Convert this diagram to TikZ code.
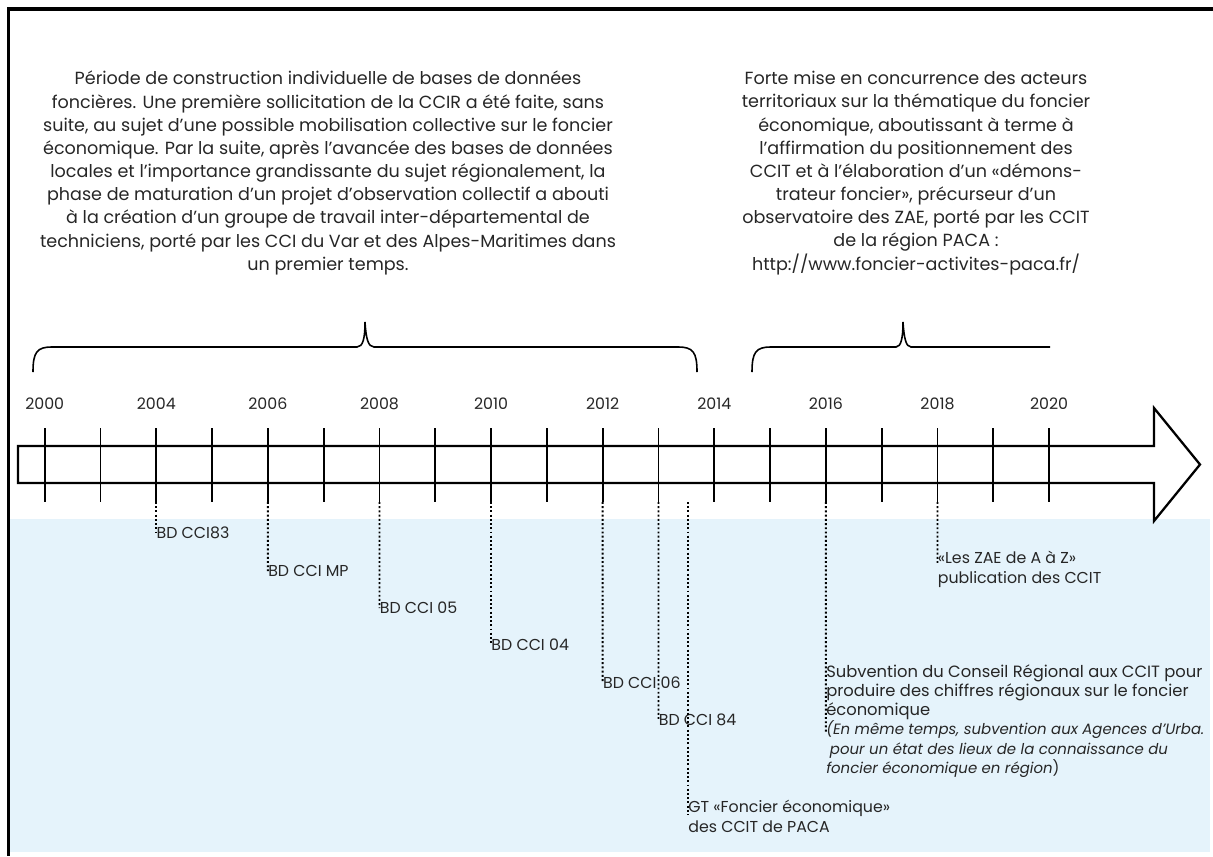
\documentclass[tikz,border=0pt]{standalone}
\usepackage{fontspec}
\setmainfont{Poppins}
\definecolor{bandblue}{HTML}{E5F3FB}
\definecolor{inkgray}{HTML}{262626}
\begin{document}
\begin{tikzpicture}[x=0.02cm,y=-0.02cm]
    \tikzstyle{every node}=[inner sep=0pt,text=inkgray];
    \tikzstyle{bloc}=[align=center,font=\fontsize{10}{13.2}\selectfont];
    \tikzstyle{an}=[font=\fontsize{9}{11}\selectfont];
    \tikzstyle{evt}=[anchor=west,align=left,font=\fontsize{9}{11}\selectfont];
    \tikzstyle{leader}=[draw,line width=1.1pt,dash pattern=on 1.1pt off 1.3pt];
    \tikzstyle{tick}=[draw,line width=1pt];
    \tikzstyle{brace}=[draw,line width=0.9pt];
    \useasboundingbox (0,0) rectangle (1213,856);
\fill[bandblue] (10,519) rectangle (1210,852);
\draw[line width=2pt] (1213,9) -- (8.5,9) -- (8.5,856);
% texts above the braces
\node[bloc] (periode1) at (328,173) {Période de construction individuelle de bases de données\\
foncières. Une première sollicitation de la CCIR a été faite, sans\\
suite, au sujet d’une possible mobilisation collective sur le foncier\\
économique. Par la suite, après l’avancée des bases de données\\
locales et l’importance grandissante du sujet régionalement, la\\
phase de maturation d’un projet d’observation collectif a abouti\\
à la création d’un groupe de travail inter-départemental de\\
techniciens, porté par les CCI du Var et des Alpes-Maritimes dans\\
un premier temps.};
\node[bloc] (periode2) at (916,173) {Forte mise en concurrence des acteurs\\
territoriaux sur la thématique du foncier\\
économique, aboutissant à terme à\\
l’affirmation du positionnement des\\
CCIT et à l’élaboration d’un «démons-\\
trateur foncier», précurseur d’un\\
observatoire des ZAE, porté par les CCIT\\
de la région PACA :\\
http://www.foncier-activites-paca.fr/};
% braces
\draw[brace] (33,372) .. controls (33,352) and (37,347) .. (52,347) -- (357,347)
  .. controls (363,347) and (365,338) .. (365,322) .. controls (366,338) and (368,347) .. (374,347)
  -- (678,347) .. controls (693,347) and (697,352) .. (697,372);
\draw[brace] (752,372) .. controls (752,352) and (756,347) .. (771,347) -- (896,347)
  .. controls (901,347) and (903,338) .. (903,322) .. controls (904,338) and (906,347) .. (911,347)
  -- (1050,347);
% time arrow
\draw[line width=1.3pt,fill=white] (18,446) -- (1154,446) -- (1154,408) -- (1200,464.5)
  -- (1154,521) -- (1154,483) -- (18,483) -- cycle;
\foreach \k in {0,...,18}{
  \coordinate (tt\k) at (44.7+55.8*\k,428);
  \coordinate (tb\k) at (44.7+55.8*\k,502);
  \draw[tick] (tt\k) -- (tb\k);
}
\foreach \k/\yr in {0/2000,2/2004,4/2006,6/2008,8/2010,10/2012,12/2014,14/2016,16/2018,18/2020}
  \node[an] (y\yr) at (44.7+55.8*\k,404) {\yr};
% events
\node[evt] (bd83) at (156.3,533) {BD CCI83};
\node[evt] (bdmp) at (267.9,571) {BD CCI MP};
\node[evt] (bd05) at (379.5,608) {BD CCI 05};
\node[evt] (bd04) at (491.1,645) {BD CCI 04};
\node[evt] (bd06) at (602.7,683) {BD CCI 06};
\node[evt] (bd84) at (658.5,720) {BD CCI 84};
\coordinate (gtop) at (688,502);
\node[evt,anchor=north west] (gt) at (688,800) {GT «Foncier économique»\\des CCIT de PACA};
\node[evt,anchor=north west] (zae) at (937.5,551) {«Les ZAE de A à Z»\\publication des CCIT};
\node[evt,anchor=north west,font=\fontsize{9.3}{11}\selectfont] (subv) at (825.9,664) {Subvention du Conseil Régional aux CCIT pour\\
produire des chiffres régionaux sur le foncier\\économique};
\node[evt,anchor=north west,font=\fontsize{8.5}{11}\selectfont\itshape] (urba) at (subv.south west)
  {(En même temps, subvention aux Agences d’Urba.\\
\hspace{0.25em}pour un état des lieux de la connaissance du\\
foncier économique en région\upshape)};
\draw[leader] (tb2) -- (bd83.west);
\draw[leader] (tb4) -- (bdmp.west);
\draw[leader] (tb6) -- (bd05.west);
\draw[leader] (tb8) -- (bd04.west);
\draw[leader] (tb10) -- (bd06.west);
\draw[leader] (tb11) -- (bd84.west);
\draw[leader] (gtop) -- ([yshift=-8pt]gt.north west);
\draw[leader] (tb16) -- ([yshift=-7pt]zae.north west);
\draw[leader] (tb14) -- ([yshift=-7pt]urba.north west);
\end{tikzpicture}
\end{document}
